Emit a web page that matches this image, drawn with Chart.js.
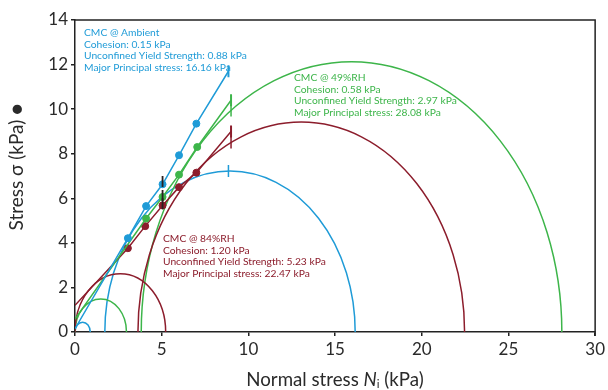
<!DOCTYPE html>
<html><head><meta charset="utf-8">
<script src="https://cdn.jsdelivr.net/npm/chart.js@4"></script>
<style>html,body{margin:0;padding:0;background:#fff}#wrap{width:608px;height:390px;position:relative}</style>
</head><body><div id="wrap"><canvas id="c"></canvas></div>
<script>
// ---- data ----
const xTickValues = [0, 5, 10, 15, 20, 25, 30];
const yTickValues = [0, 2, 4, 6, 8, 10, 12, 14];
const seriesNames = ['CMC @ Ambient', 'CMC @ 49%RH', 'CMC @ 84%RH'];
const cohesion = [0.15, 0.58, 1.20];
const unconfinedYield = [0.88, 2.97, 5.23];
const majorPrincipal = [16.16, 28.08, 22.47];
const minorPrincipal = [1.72, 3.82, 3.63];
const ambientX = [3.05, 4.1, 5.05, 6.0, 7.0];
const ambientY = [4.21, 5.65, 6.63, 7.93, 9.35];
const rh49X = [4.1, 5.05, 6.0, 7.05];
const rh49Y = [5.09, 6.06, 7.06, 8.30];
const rh84X = [3.05, 4.05, 5.05, 6.0, 7.0];
const rh84Y = [3.76, 4.75, 5.68, 6.50, 7.15];
const locusEndX = [8.85, 9.0, 9.0];
const locusEndY = [11.7, 10.4, 9.0];
const preshearX = [5.05, 5.05, 5.05];
const preshearY = [6.75, 6.12, 5.75];
const circleTickX = [8.85, 9.0, 9.0];

const colors = ['#1f9bd7', '#3db54a', '#8c1d2c'];
const FONT = 'Lato, "Open Sans", sans-serif';

const seriesX = [ambientX, rh49X, rh84X];
const seriesY = [ambientY, rh49Y, rh84Y];

function locusData(i) {
  const d = [{x: 0, y: cohesion[i]}];
  seriesX[i].forEach((x, k) => d.push({x: x, y: seriesY[i][k]}));
  d.push({x: locusEndX[i], y: locusEndY[i]});
  return d;
}

const datasets = [0, 1, 2].map(i => {
  const d = locusData(i);
  const n = d.length;
  return {
    label: seriesNames[i],
    data: d,
    showLine: true,
    borderColor: colors[i],
    backgroundColor: colors[i],
    borderWidth: 1.5,
    pointRadius: d.map((p, k) => k === 0 ? 0 : (k === n - 1 ? 6 : 3.5)),
    pointStyle: d.map((p, k) => k === n - 1 ? 'line' : 'circle'),
    rotation: d.map((p, k) => k === n - 1 ? 90 : 0),
    pointBorderWidth: d.map((p, k) => k === n - 1 ? 2 : 1),
    pointBorderColor: colors[i],
    pointBackgroundColor: colors[i],
    order: 2
  };
});
datasets.push({
  label: 'pre-shear',
  data: preshearX.map((x, k) => ({x: x, y: preshearY[k]})),
  showLine: false,
  pointStyle: 'line',
  rotation: 90,
  pointRadius: 5.5,
  pointBorderWidth: 1.8,
  pointBorderColor: '#2a2020',
  order: 1
});

function fitSize(ctx, text, family, target, style) {
  ctx.font = (style || '') + ' 20px ' + family;
  return 20 * target / ctx.measureText(text).width;
}

const circlePlugin = {
  id: 'mohr',
  beforeDatasetsDraw(chart) {
    const ctx = chart.ctx, xs = chart.scales.x, ys = chart.scales.y, a = chart.chartArea;
    ctx.save();
    ctx.beginPath();
    ctx.rect(a.left, a.top, a.right - a.left, a.bottom - a.top);
    ctx.clip();
    for (let i = 0; i < 3; i++) {
      const pairs = [[0, unconfinedYield[i]], [minorPrincipal[i], majorPrincipal[i]]];
      pairs.forEach(([s3, s1], j) => {
        const c = (s1 + s3) / 2, r = (s1 - s3) / 2;
        const px = xs.getPixelForValue(c), py = ys.getPixelForValue(0);
        const rx = xs.getPixelForValue(c + r) - px;
        const ry = py - ys.getPixelForValue(r);
        ctx.beginPath();
        ctx.ellipse(px, py, rx, ry, 0, Math.PI, 2 * Math.PI);
        ctx.strokeStyle = colors[i];
        ctx.lineWidth = 1.5;
        ctx.stroke();
        if (j === 1) {
          const tx = circleTickX[i];
          const tv = Math.sqrt(Math.max(0, r * r - (tx - c) * (tx - c)));
          const X = xs.getPixelForValue(tx), Y = ys.getPixelForValue(tv);
          ctx.beginPath();
          ctx.moveTo(X, Y - 6); ctx.lineTo(X, Y + 6);
          ctx.lineWidth = 1.5;
          ctx.stroke();
        }
      });
    }
    ctx.restore();
  },
  afterDraw(chart) {
    const ctx = chart.ctx, a = chart.chartArea;
    ctx.save();
    // frame top & right
    ctx.strokeStyle = '#222';
    ctx.lineWidth = 1.5;
    ctx.beginPath();
    ctx.moveTo(a.left, a.top); ctx.lineTo(a.right, a.top); ctx.lineTo(a.right, a.bottom + 4);
    ctx.stroke();
    // annotations
    const notes = [
      {i: 0, x: 84, y: 33},
      {i: 1, x: 294, y: 78},
      {i: 2, x: 163, y: 239}
    ];
    const noteSize = fitSize(ctx, 'Major Principal stress: 16.16 kPa', FONT, 147);
    ctx.font = noteSize.toFixed(2) + 'px ' + FONT;
    ctx.textBaseline = 'middle';
    ctx.textAlign = 'left';
    notes.forEach(n => {
      const i = n.i;
      const lines = [
        seriesNames[i],
        'Cohesion: ' + cohesion[i].toFixed(2) + ' kPa',
        'Unconfined Yield Strength: ' + unconfinedYield[i].toFixed(2) + ' kPa',
        'Major Principal stress: ' + majorPrincipal[i].toFixed(2) + ' kPa'
      ];
      ctx.fillStyle = colors[i];
      lines.forEach((t, k) => ctx.fillText(t, n.x, n.y + k * 11.4));
    });
    // axis titles
    ctx.fillStyle = '#2a2a2a';
    const ts = fitSize(ctx, 'Normal stress N, (kPa)', FONT, 180);
    const base = ts.toFixed(2) + 'px ' + FONT;
    const parts = [
      {t: 'Normal stress ', f: base, dy: 0},
      {t: 'N', f: 'italic ' + base, dy: 0},
      {t: 'i', f: (ts * 0.62).toFixed(2) + 'px ' + FONT, dy: 4},
      {t: ' (kPa)', f: base, dy: 0}
    ];
    let total = 0;
    parts.forEach(p => { ctx.font = p.f; p.w = ctx.measureText(p.t).width; total += p.w; });
    let cx = 335 - total / 2;
    ctx.textAlign = 'left';
    ctx.textBaseline = 'middle';
    parts.forEach(p => { ctx.font = p.f; ctx.fillText(p.t, cx, 380 + p.dy); cx += p.w; });
    const yts = fitSize(ctx, 'Stress σ (kPa) ●', FONT, 127);
    ctx.translate(17, 167);
    ctx.rotate(-Math.PI / 2);
    ctx.font = yts.toFixed(2) + 'px ' + FONT;
    ctx.textAlign = 'center';
    ctx.fillText('Stress σ (kPa) ●', 0, 0);
    ctx.restore();
  }
};

new Chart(document.getElementById('c'), {
  type: 'scatter',
  data: {datasets: datasets},
  options: {
    responsive: true,
    maintainAspectRatio: false,
    animation: false,
    layout: {padding: {top: 20, right: 12, left: 0, bottom: 0}},
    plugins: {legend: {display: false}, tooltip: {enabled: false}},
    scales: {
      x: {
        type: 'linear', min: 0, max: 30,
        afterBuildTicks: s => { s.ticks = xTickValues.map(v => ({value: v})); },
        afterFit: s => { s.height = 58; },
        grid: {drawOnChartArea: false, drawTicks: true, tickLength: 4, color: '#222', lineWidth: 1.5},
        border: {display: true, color: '#222', width: 1.5},
        ticks: {color: '#2a2a2a', font: {family: FONT, size: 17}, padding: 3, maxRotation: 0}
      },
      y: {
        type: 'linear', min: 0, max: 14,
        afterBuildTicks: s => { s.ticks = yTickValues.map(v => ({value: v})); },
        afterFit: s => { s.width = 75; },
        grid: {drawOnChartArea: false, drawTicks: true, tickLength: 4, color: '#222', lineWidth: 1.5},
        border: {display: true, color: '#222', width: 1.5},
        ticks: {color: '#2a2a2a', font: {family: FONT, size: 17}, padding: 3}
      }
    }
  },
  plugins: [circlePlugin]
});
</script>
</body></html>
